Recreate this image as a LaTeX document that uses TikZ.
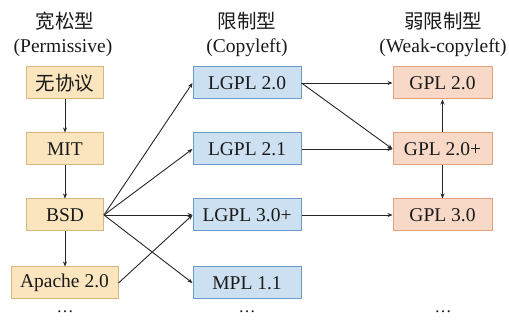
\documentclass[tikz,border=0pt]{standalone}
\usepackage{fontspec}
\setmainfont{Liberation Serif}
\newfontfamily\cjk{Noto Sans CJK SC}
\usetikzlibrary{arrows.meta}
\definecolor{yfill}{HTML}{FAE5BF}
\definecolor{ydraw}{HTML}{D6B87E}
\definecolor{bfill}{HTML}{CDE0F1}
\definecolor{bdraw}{HTML}{6F9BCB}
\definecolor{rfill}{HTML}{F8D9C7}
\definecolor{rdraw}{HTML}{E2A07E}
\definecolor{txt}{HTML}{1A1A1A}
\tikzset{
  box/.style={draw, line width=1pt, minimum height=32pt, inner sep=0pt, font=\fontsize{19.5}{21}\selectfont, text=txt},
  ybox/.style={box, fill=yfill, draw=ydraw, minimum width=77pt},
  bbox/.style={box, fill=bfill, draw=bdraw, minimum width=108pt},
  rbox/.style={box, fill=rfill, draw=rdraw, minimum width=99pt},
  head/.style={font=\fontsize{19.5}{21}\selectfont, text=txt, align=center},
  arr/.style={-{Stealth[length=5pt,width=4pt]}, line width=0.9pt, draw=black!85},
  dots/.style={font=\fontsize{17}{17}\selectfont, text=txt}
}
\begin{document}
\begin{tikzpicture}[x=1pt,y=-1pt]
\useasboundingbox (0,0) rectangle (509,320);
% headers
\node[head] (h1a) at (65,21) {\cjk 宽松型};
\node[head] (h1b) at (63,48) {(Permissive)};
\node[head] (h2a) at (247,21) {\cjk 限制型};
\node[head] (h2b) at (247,48) {(Copyleft)};
\node[head] (h3a) at (443,21) {\cjk 弱限制型};
\node[head] (h3b) at (443,48) {(Weak-copyleft)};
% left column
\node[ybox] (none) at (65,83) {\cjk 无协议};
\node[ybox] (mit) at (65,149) {MIT};
\node[ybox] (bsd) at (65,215) {BSD};
\node[ybox, minimum width=107pt] (apache) at (64.5,283) {Apache 2.0};
% middle column
\node[bbox] (l20) at (247,83) {LGPL 2.0};
\node[bbox] (l21) at (247,149) {LGPL 2.1};
\node[bbox] (l30) at (247,215) {LGPL 3.0+};
\node[bbox] (mpl) at (247,283) {MPL 1.1};
% right column
\node[rbox] (g20) at (442.5,83) {GPL 2.0};
\node[rbox] (g20p) at (442.5,149) {GPL 2.0+};
\node[rbox] (g30) at (442.5,215) {GPL 3.0};
% dots
\node[dots] (d1) at (65,312) {\dots};
\node[dots] (d2) at (247,312) {\dots};
\node[dots] (d3) at (443,312) {\dots};
% arrows
\draw[arr] (none) -- (mit);
\draw[arr] (mit) -- (bsd);
\draw[arr] (bsd) -- (apache.north -| bsd);
\draw[arr] (bsd.east) -- (l20.west);
\draw[arr] (bsd.east) -- (l21.west);
\draw[arr] (bsd.east) -- (l30.west);
\draw[arr] (bsd.east) -- (mpl.west);
\draw[arr] (apache.east) -- (l30.west);
\draw[arr] (l20.east) -- (g20.west);
\draw[arr] (l20.east) -- (g20p.west);
\draw[arr] (l21.east) -- (g20p.west);
\draw[arr] (l30.east) -- (g30.west);
\draw[arr] (g20p) -- (g20);
\draw[arr] (g20p) -- (g30);
\end{tikzpicture}
\end{document}
